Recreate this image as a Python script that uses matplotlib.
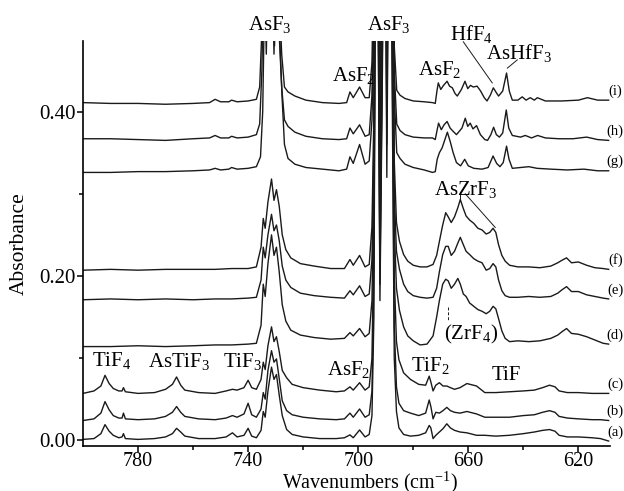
import matplotlib
matplotlib.use("Agg")
from matplotlib import pyplot as plt

plt.rcParams['font.family'] = ['Liberation Serif', 'DejaVu Serif']
plt.rcParams['mathtext.fontset'] = 'custom'
plt.rcParams['mathtext.rm'] = 'Liberation Serif'
plt.rcParams['mathtext.it'] = 'Liberation Serif:italic'
plt.rcParams['mathtext.bf'] = 'Liberation Serif:bold'

# spectra: (wavenumber cm-1, absorbance)
wn_ti = [800, 796, 793.5, 792, 790.5, 789, 787, 785.8, 785.3, 784.6, 780, 774, 770, 767.5, 766, 764.5,
         763, 758, 752, 748, 745.7, 744, 741.5, 740, 738.7, 737, 735.3, 734.5, 733.8, 732.8, 731.5,
         730.6, 729.7, 728.7, 727.6, 726, 724, 720, 714, 708, 705, 703, 701.8, 699.5, 697.5, 696,
         695, 694.3, 693.6, 692.8, 692.1, 691.2, 690.4, 689.6, 688.6, 687.7, 686.9, 686.1, 685.2,
         683.5, 681, 678, 675.5, 674.2, 673.6, 672.8, 671.8, 670.5, 669.2, 667.8, 666.5, 665, 663,
         660.5, 657, 654, 650, 645, 640, 636, 633, 630.5, 628.5, 627, 624, 620, 615, 612, 609]

abs_a = [0.001, 0.002, 0.008, 0.019, 0.011, 0.006, 0.003, 0.004, 0.008, 0.002, 0.001, 0.002, 0.004,
         0.008, 0.0145, 0.010, 0.005, 0.002, 0.002, 0.004, 0.009, 0.004, 0.006, 0.0145, 0.005, 0.003,
         0.012, 0.035, 0.028, 0.06, 0.089, 0.074, 0.08, 0.055, 0.03, 0.013, 0.007, 0.004, 0.002,
         0.002, 0.003, 0.0065, 0.003, 0.0125, 0.004, 0.007, 0.03, 0.15, 0.7, 0.55, 0.17, 0.45, 0.8,
         0.32, 0.8, 0.45, 0.1, 0.035, 0.015, 0.007, 0.005, 0.006, 0.009, 0.018, 0.015, 0.002, 0.006,
         0.010, 0.014, 0.02, 0.015, 0.012, 0.010, 0.009, 0.006, 0.006, 0.005, 0.006, 0.008, 0.010,
         0.012, 0.013, 0.011, 0.006, 0.004, 0.004, 0.003, 0.002, -0.001]

abs_b = [0.024, 0.026, 0.033, 0.047, 0.037, 0.030, 0.027, 0.027, 0.033, 0.026, 0.025, 0.026, 0.029,
         0.034, 0.041, 0.034, 0.029, 0.026, 0.025, 0.027, 0.030, 0.028, 0.032, 0.045, 0.031, 0.028,
         0.038, 0.058, 0.05, 0.085, 0.109, 0.095, 0.099, 0.075, 0.048, 0.036, 0.031, 0.028, 0.026,
         0.025, 0.026, 0.033, 0.028, 0.038, 0.028, 0.031, 0.06, 0.2, 0.7, 0.55, 0.19, 0.48, 0.8,
         0.36, 0.8, 0.5, 0.14, 0.065, 0.045, 0.036, 0.033, 0.030, 0.033, 0.049, 0.041, 0.026, 0.034,
         0.033, 0.036, 0.040, 0.036, 0.034, 0.033, 0.035, 0.032, 0.028, 0.028, 0.028, 0.030, 0.031,
         0.034, 0.036, 0.034, 0.029, 0.027, 0.026, 0.025, 0.025, 0.024]

abs_c = [0.057, 0.060, 0.066, 0.079, 0.069, 0.063, 0.060, 0.060, 0.064, 0.059, 0.057, 0.058, 0.062,
         0.068, 0.077, 0.067, 0.061, 0.058, 0.057, 0.060, 0.062, 0.061, 0.064, 0.073, 0.064, 0.062,
         0.074, 0.095, 0.086, 0.115, 0.138, 0.12, 0.126, 0.108, 0.085, 0.076, 0.068, 0.064, 0.061,
         0.059, 0.060, 0.065, 0.061, 0.070, 0.061, 0.065, 0.1, 0.25, 0.7, 0.6, 0.21, 0.5, 0.8, 0.4,
         0.8, 0.6, 0.2, 0.12, 0.098, 0.082, 0.074, 0.068, 0.067, 0.078, 0.071, 0.060, 0.067, 0.070,
         0.066, 0.066, 0.064, 0.062, 0.064, 0.069, 0.066, 0.058, 0.058, 0.059, 0.060, 0.061, 0.064,
         0.067, 0.065, 0.060, 0.058, 0.058, 0.057, 0.057, 0.057]

wn_zr = [800, 790, 780, 770, 760, 752, 746, 740, 737, 735.3, 734.5, 733.8, 732.8, 731.5, 730.6, 729.7,
         728.7, 727.6, 726.3, 724.5, 721, 716, 710, 705, 703, 701.8, 699.5, 697.5, 696, 695, 694.3,
         693.6, 692.8, 692.1, 691.2, 690.4, 689.6, 688.6, 687.7, 686.9, 686.1, 685, 683.5, 682, 680,
         677.5, 675, 672.8, 671.5, 670.5, 669.3, 668.2, 667.3, 666.2, 665, 663.8, 662.9, 661.8, 660.8,
         659.5, 658, 656.5, 655, 653.5, 652.2, 651, 650, 649, 647.8, 646.6, 645, 642, 638, 634, 630,
         627.5, 626, 624.3, 622.5, 620, 617, 614, 611, 609]

abs_d = [0.114, 0.114, 0.115, 0.114, 0.115, 0.116, 0.116, 0.117, 0.118, 0.14, 0.19, 0.175, 0.215, 0.25,
         0.225, 0.235, 0.205, 0.165, 0.145, 0.134, 0.128, 0.125, 0.123, 0.124, 0.131, 0.127, 0.136,
         0.126, 0.13, 0.17, 0.32, 0.8, 0.7, 0.28, 0.6, 0.9, 0.45, 0.9, 0.7, 0.26, 0.185, 0.158, 0.138,
         0.127, 0.121, 0.116, 0.117, 0.127, 0.15, 0.17, 0.19, 0.196, 0.194, 0.185, 0.19, 0.197, 0.19,
         0.178, 0.175, 0.167, 0.163, 0.159, 0.157, 0.154, 0.157, 0.163, 0.16, 0.148, 0.133, 0.124,
         0.120, 0.121, 0.120, 0.121, 0.124, 0.128, 0.132, 0.136, 0.130, 0.129, 0.126, 0.122, 0.118,
         0.117]

abs_e = [0.171, 0.172, 0.171, 0.172, 0.171, 0.172, 0.172, 0.173, 0.174, 0.195, 0.235, 0.222, 0.25,
         0.275, 0.255, 0.262, 0.243, 0.212, 0.195, 0.186, 0.179, 0.176, 0.174, 0.173, 0.182, 0.177,
         0.188, 0.175, 0.178, 0.22, 0.36, 0.85, 0.75, 0.3, 0.65, 0.95, 0.5, 0.95, 0.75, 0.3, 0.23,
         0.208, 0.19, 0.181, 0.176, 0.174, 0.173, 0.174, 0.185, 0.205, 0.226, 0.236, 0.236, 0.225,
         0.23, 0.24, 0.247, 0.238, 0.23, 0.226, 0.221, 0.218, 0.216, 0.207, 0.209, 0.215, 0.211,
         0.195, 0.182, 0.176, 0.174, 0.174, 0.175, 0.174, 0.175, 0.179, 0.183, 0.187, 0.181, 0.181,
         0.177, 0.175, 0.173, 0.172]

abs_f = [0.207, 0.208, 0.207, 0.208, 0.208, 0.208, 0.209, 0.209, 0.211, 0.235, 0.27, 0.258, 0.29,
         0.318, 0.292, 0.305, 0.285, 0.25, 0.232, 0.222, 0.215, 0.212, 0.209, 0.209, 0.22, 0.213,
         0.225, 0.211, 0.214, 0.26, 0.4, 0.9, 0.8, 0.34, 0.7, 1.0, 0.55, 1.0, 0.8, 0.34, 0.265, 0.242,
         0.226, 0.218, 0.213, 0.211, 0.211, 0.214, 0.225, 0.242, 0.262, 0.277, 0.272, 0.265, 0.272,
         0.283, 0.293, 0.282, 0.273, 0.268, 0.264, 0.258, 0.256, 0.251, 0.253, 0.258, 0.253, 0.238,
         0.225, 0.218, 0.213, 0.211, 0.211, 0.210, 0.212, 0.216, 0.219, 0.222, 0.216, 0.217, 0.213,
         0.21, 0.209, 0.208]

trace_g = [(800, 0.326), (790, 0.326), (780, 0.327), (770, 0.327), (760, 0.328), (754, 0.329),
           (752, 0.331), (750, 0.329), (747, 0.33), (746, 0.332), (744, 0.33), (740, 0.331),
           (737, 0.333), (735.5, 0.345), (734.7, 0.40), (734, 0.55), (733.2, 0.5), (732.4, 0.6),
           (731.4, 0.65), (730.4, 0.48), (729.6, 0.6), (728.6, 0.5), (727.7, 0.42), (726.8, 0.36),
           (725.5, 0.343), (723, 0.336), (719, 0.332), (713, 0.33), (707, 0.328), (704.2, 0.33),
           (703, 0.345), (701.8, 0.337), (699.5, 0.36), (697.5, 0.336), (696, 0.34), (695, 0.39),
           (694.3, 0.5), (693.6, 0.9), (692.8, 0.8), (692.1, 0.42), (691.2, 0.8), (690.4, 1.0),
           (689.6, 0.6), (688.6, 1.0), (687.7, 0.85), (686.9, 0.42), (686, 0.35), (684.8, 0.343),
           (683, 0.336), (680, 0.332), (676, 0.329), (673, 0.326), (672, 0.327), (671.3, 0.342),
           (670.5, 0.35), (669.5, 0.356), (668.5, 0.366), (667.6, 0.375), (666.6, 0.364),
           (665.5, 0.35), (664.3, 0.338), (662.8, 0.334), (661.3, 0.342), (660, 0.334), (658, 0.331),
           (655, 0.33), (652.8, 0.332), (651, 0.346), (649.7, 0.337), (648.5, 0.333), (647.3, 0.338),
           (646.1, 0.358), (645.2, 0.342), (644, 0.331), (641, 0.332), (638, 0.333), (635, 0.331),
           (630, 0.33), (624, 0.329), (618, 0.33), (613, 0.328), (609, 0.328)]

trace_h = [(800, 0.367), (790, 0.367), (780, 0.366), (770, 0.365), (760, 0.367), (754, 0.368),
           (752, 0.371), (750, 0.368), (747, 0.368), (746, 0.37), (744, 0.368), (740, 0.369),
           (737, 0.372), (735.8, 0.385), (735, 0.45), (734.2, 0.6), (733.4, 0.47), (732.6, 0.6),
           (731.6, 0.65), (730.6, 0.47), (729.8, 0.6), (728.8, 0.5), (727.8, 0.43), (726.8, 0.39),
           (725.5, 0.382), (723, 0.375), (719, 0.37), (713, 0.367), (707, 0.366), (704.2, 0.367),
           (703, 0.38), (701.8, 0.373), (699.5, 0.384), (697.5, 0.37), (696, 0.372), (695, 0.42),
           (694.3, 0.55), (693.6, 0.9), (692.8, 0.8), (692.1, 0.45), (691.2, 0.8), (690.4, 1.0),
           (689.6, 0.62), (688.6, 1.0), (687.7, 0.85), (686.9, 0.45), (686, 0.385), (684.8, 0.377),
           (683, 0.372), (680, 0.369), (676, 0.368), (673, 0.368), (672, 0.366), (671.3, 0.378),
           (670.8, 0.386), (669.8, 0.378), (668.8, 0.384), (667.7, 0.388), (666.6, 0.38),
           (665.5, 0.376), (664.3, 0.372), (662.3, 0.38), (661.1, 0.392), (660.2, 0.382),
           (659.3, 0.386), (658.3, 0.379), (657, 0.383), (655.6, 0.372), (654, 0.366), (653, 0.365),
           (651.8, 0.372), (650.8, 0.381), (649.8, 0.372), (648.7, 0.369), (647.5, 0.374),
           (646.2, 0.402), (645.3, 0.38), (644, 0.371), (641, 0.369), (639.3, 0.371), (637, 0.368),
           (634.8, 0.371), (632, 0.368), (627, 0.367), (622, 0.367), (617, 0.369), (613, 0.366),
           (609, 0.365)]

trace_i = [(800, 0.411), (790, 0.41), (780, 0.41), (770, 0.409), (760, 0.41), (754, 0.411),
           (752, 0.415), (750, 0.412), (747, 0.412), (746, 0.414), (744, 0.412), (740, 0.413),
           (737, 0.415), (735.8, 0.43), (735, 0.5), (734.2, 0.6), (733.4, 0.5), (732.6, 0.6),
           (731.6, 0.6), (730.6, 0.5), (729.8, 0.6), (728.8, 0.55), (727.8, 0.47), (726.8, 0.43),
           (725.5, 0.424), (723, 0.419), (719, 0.414), (713, 0.411), (707, 0.41), (704.2, 0.411),
           (703, 0.424), (701.8, 0.417), (699.5, 0.43), (697.5, 0.417), (696, 0.417), (695, 0.46),
           (694.3, 0.6), (693.6, 0.9), (692.8, 0.8), (692.1, 0.5), (691.2, 0.8), (690.4, 1.0),
           (689.6, 0.65), (688.6, 1.0), (687.7, 0.85), (686.9, 0.48), (686, 0.426), (684.8, 0.42),
           (683, 0.416), (680, 0.413), (676, 0.412), (673, 0.411), (672, 0.41), (671.4, 0.425),
           (670.9, 0.435), (670, 0.427), (669, 0.432), (667.7, 0.437), (666.8, 0.431),
           (665.8, 0.429), (664.8, 0.422), (664, 0.419), (662.5, 0.427), (661.2, 0.437),
           (660.2, 0.428), (659.2, 0.432), (658.2, 0.43), (656.8, 0.431), (655.5, 0.425),
           (654.2, 0.417), (653.2, 0.413), (652, 0.42), (650.9, 0.429), (649.8, 0.423), (649, 0.419),
           (647.5, 0.425), (646.1, 0.447), (645.1, 0.425), (644, 0.414), (642, 0.414),
           (640.4, 0.418), (639, 0.414), (637.5, 0.417), (636, 0.414), (634.9, 0.417), (632, 0.413),
           (626, 0.413), (620, 0.414), (616.7, 0.417), (613, 0.414), (609, 0.414)]

trace_tags = ['(a)', '(b)', '(c)', '(d)', '(e)', '(f)', '(g)', '(h)', '(i)']

x_major = [780, 740, 700, 660, 620]
x_minor = [760, 720, 680, 640]
y_major = [0.0, 0.2, 0.4]
y_minor = [0.1, 0.3]

fig = plt.figure(figsize=(6.24, 4.91), dpi=100)
ax = fig.add_axes([0.133, 0.0917, 0.8446, 0.8248])

series = [(wn_ti, abs_a), (wn_ti, abs_b), (wn_ti, abs_c),
          (wn_zr, abs_d), (wn_zr, abs_e), (wn_zr, abs_f)]
for tr in (trace_g, trace_h, trace_i):
    series.append(([p[0] for p in tr], [p[1] for p in tr]))

for (x, y), tag in zip(series, trace_tags):
    ax.plot(x, y, color='#1a1a1a', lw=1.0)
    ax.text(606.6, y[-1] + 0.011, tag, fontsize=10.5, ha='center', va='center')

ax.set_xlim(800, 608.5)
ax.set_ylim(-0.007, 0.486)
ax.set_xticks(x_major)
ax.set_xticks(x_minor, minor=True)
ax.set_yticks(y_major)
ax.set_yticklabels(['%.2f' % v for v in y_major])
ax.set_yticks(y_minor, minor=True)
ax.tick_params(which='major', direction='out', length=4, width=1.1, labelsize=15, pad=1.5)
ax.tick_params(axis='x', which='major', pad=0, labelsize=14.5)
ax.tick_params(which='minor', direction='out', length=3, width=1.1)
for s in ['top', 'right']:
    ax.spines[s].set_visible(False)
for s in ['left', 'bottom']:
    ax.spines[s].set_linewidth(1.2)

ax.set_xlabel(r'Wavenumbers (cm$^{-1}$)', fontsize=14.5)
ax.xaxis.set_label_coords(0.545, -0.059)
ax.set_ylabel('Absorbance', fontsize=15.5)
ax.yaxis.set_label_coords(-0.1025, 0.5)

kw = dict(fontsize=15, ha='center', va='center')
ax.text(732, 0.5055, r'AsF$_3$', clip_on=False, **kw)
ax.text(688.7, 0.5055, r'AsF$_3$', clip_on=False, **kw)
ax.text(701.8, 0.4436, r'AsF$_2$', **kw)
ax.text(670.2, 0.451, r'AsF$_2$', **kw)
ax.text(658.9, 0.4945, r'HfF$_4$', clip_on=False, **kw)
ax.text(641.5, 0.4715, r'AsHfF$_3$', **kw)
ax.text(661.1, 0.3055, r'AsZrF$_3$', **kw)
ax.text(658.9, 0.1285, r'(ZrF$_4$)', **kw)
ax.text(789.5, 0.097, r'TiF$_4$', **kw)
ax.text(765.1, 0.0958, r'AsTiF$_3$', **kw)
ax.text(742.2, 0.0958, r'TiF$_3$', **kw)
ax.text(703.3, 0.086, r'AsF$_2$', **kw)
ax.text(673.8, 0.091, r'TiF$_2$', **kw)
ax.text(646.2, 0.079, 'TiF', **kw)

lk = dict(color='#1a1a1a', lw=0.7)
ax.plot([661.8, 651.3], [0.485, 0.435], clip_on=False, **lk)
ax.plot([645.8, 642.2], [0.453, 0.463], **lk)
ax.plot([662.9, 662.9], [0.298, 0.291], **lk)
ax.plot([661.1, 650.2], [0.300, 0.259], **lk)
ax.plot([667.3, 667.3], [0.162, 0.145], ls=(0, (3, 2)), **lk)

fig.savefig('out.png', dpi=100)
